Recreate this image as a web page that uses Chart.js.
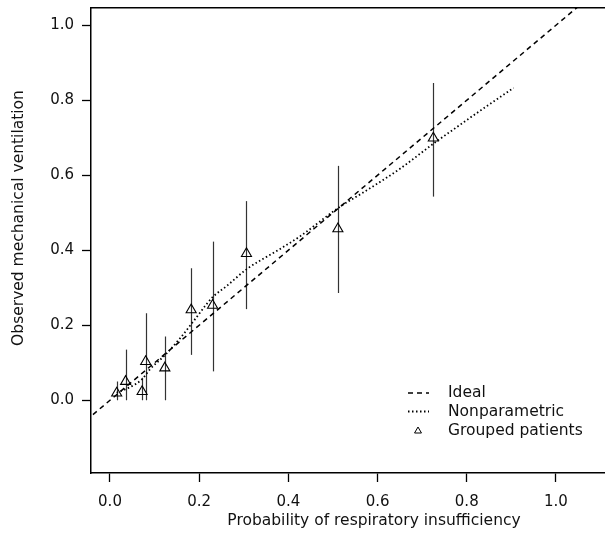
<!DOCTYPE html>
<html>
<head>
<meta charset="utf-8">
<script src="https://cdn.jsdelivr.net/npm/chart.js@4.4.0/dist/chart.umd.min.js"></script>
<style>
html, body { margin: 0; padding: 0; background: #fff; }
#wrap { width: 605px; height: 533px; }
</style>
</head>
<body>
<div id="wrap"><canvas id="calibChart" width="605" height="533"></canvas></div>
<script>
// Data
const idealX = [-0.1, 1.2];
const idealY = [-0.1, 1.2];

const npX = [0.015, 0.045, 0.071, 0.09, 0.123, 0.157, 0.19, 0.217, 0.232, 0.262, 0.307, 0.378, 0.426, 0.512, 0.576, 0.651, 0.725, 0.77, 0.83, 0.905];
const npY = [0.02, 0.035, 0.055, 0.083, 0.12, 0.165, 0.215, 0.257, 0.277, 0.305, 0.35, 0.401, 0.437, 0.513, 0.56, 0.618, 0.684, 0.722, 0.772, 0.833];

const groupX = [0.015, 0.035, 0.072, 0.080, 0.123, 0.182, 0.230, 0.306, 0.511, 0.725];
const groupY = [0.019, 0.050, 0.023, 0.103, 0.086, 0.241, 0.253, 0.391, 0.457, 0.699];
const groupLo = [0.0, 0.0, 0.0, 0.0, 0.0, 0.121, 0.077, 0.243, 0.286, 0.543];
const groupHi = [0.05, 0.135, 0.06, 0.232, 0.17, 0.352, 0.423, 0.531, 0.625, 0.846];

const xTicks = [0, 0.2, 0.4, 0.6, 0.8, 1.0];
const yTicks = [0, 0.2, 0.4, 0.6, 0.8, 1.0];

const legendLabels = ['Ideal', 'Nonparametric', 'Grouped patients'];
const xTitle = 'Probability of respiratory insufficiency';
const yTitle = 'Observed mechanical ventilation';

const FONT = '"DejaVu Sans", Verdana, sans-serif';
const INK = '#111';

Chart.defaults.font.family = FONT;
Chart.defaults.font.size = 15;
Chart.defaults.color = INK;

const toPoints = (xs, ys) => xs.map((x, i) => ({ x, y: ys[i] }));

// Vertical error bars through each grouped point
const errorBars = {
    id: 'errorBars',
    beforeDatasetsDraw(chart) {
        const { ctx, scales: { x, y } } = chart;
        ctx.save();
        ctx.strokeStyle = '#333';
        ctx.lineWidth = 1.2;
        groupX.forEach((gx, i) => {
            const px = Math.round(x.getPixelForValue(gx)) + 0.5;
            ctx.beginPath();
            ctx.moveTo(px, y.getPixelForValue(groupLo[i]));
            ctx.lineTo(px, y.getPixelForValue(groupHi[i]));
            ctx.stroke();
        });
        ctx.restore();
    }
};

// Axis titles and the in-plot legend
const annotations = {
    id: 'annotations',
    afterDraw(chart) {
        const { ctx } = chart;
        ctx.save();
        ctx.fillStyle = INK;
        ctx.font = '15.5px ' + FONT;
        ctx.textBaseline = 'middle';

        ctx.textAlign = 'center';
        ctx.fillText(xTitle, 374, 521);
        ctx.save();
        ctx.translate(19, 218);
        ctx.rotate(-Math.PI / 2);
        ctx.fillText(yTitle, 0, 0);
        ctx.restore();

        // legend
        const rows = [393, 411.5, 431];
        ctx.textAlign = 'left';
        legendLabels.forEach((label, i) => ctx.fillText(label, 448, rows[i]));

        ctx.strokeStyle = '#000';
        ctx.lineWidth = 1.5;
        ctx.setLineDash([5, 4]);
        ctx.beginPath();
        ctx.moveTo(408, rows[0]);
        ctx.lineTo(429, rows[0]);
        ctx.stroke();

        ctx.lineWidth = 1.8;
        ctx.setLineDash([1.5, 2.5]);
        ctx.beginPath();
        ctx.moveTo(408, rows[1]);
        ctx.lineTo(429, rows[1]);
        ctx.stroke();

        ctx.setLineDash([]);
        ctx.lineWidth = 1;
        ctx.fillStyle = 'rgba(0,0,0,0)';
        Chart.helpers.drawPoint(ctx, { pointStyle: 'triangle', radius: 4, borderWidth: 1 }, 418, rows[2]);
        ctx.restore();
    }
};

const noSidePadding = scale => { scale.paddingLeft = 0; scale.paddingRight = 0; };

const ctx = document.getElementById('calibChart').getContext('2d');

new Chart(ctx, {
    type: 'scatter',
    data: {
        datasets: [
            {
                label: 'Ideal',
                data: toPoints(idealX, idealY),
                showLine: true,
                borderColor: '#000',
                borderWidth: 1.5,
                borderDash: [5, 4],
                pointRadius: 0
            },
            {
                label: 'Nonparametric',
                data: toPoints(npX, npY),
                showLine: true,
                borderColor: '#000',
                borderWidth: 1.8,
                borderDash: [1.5, 2.5],
                cubicInterpolationMode: 'monotone',
                pointRadius: 0
            },
            {
                label: 'Grouped patients',
                data: toPoints(groupX, groupY),
                pointStyle: 'triangle',
                pointRadius: 5.8,
                pointBorderColor: '#000',
                pointBorderWidth: 1.1,
                pointBackgroundColor: 'rgba(0,0,0,0)'
            }
        ]
    },
    options: {
        responsive: false,
        animation: false,
        devicePixelRatio: 1,
        layout: { padding: 0, autoPadding: false },
        plugins: {
            legend: { display: false },
            tooltip: { enabled: false }
        },
        scales: {
            x: {
                type: 'linear',
                position: 'bottom',
                min: -0.0426,
                max: 1.11,
                afterBuildTicks: scale => { scale.ticks = xTicks.map(v => ({ value: v })); },
                afterFit: scale => { scale.height = 60; noSidePadding(scale); },
                ticks: {
                    padding: 11,
                    color: INK,
                    callback: v => v.toFixed(1)
                },
                grid: { drawOnChartArea: false, drawTicks: true, tickLength: 9, tickColor: '#000', tickWidth: 1.3 },
                border: { display: true, color: '#000', width: 1.5 }
            },
            xTop: {
                type: 'linear',
                position: 'top',
                min: -0.0426,
                max: 1.11,
                afterFit: scale => { scale.height = 8; noSidePadding(scale); },
                ticks: { display: false },
                grid: { display: false, drawTicks: false },
                border: { display: true, color: '#000', width: 1.5 }
            },
            y: {
                type: 'linear',
                position: 'left',
                min: -0.194,
                max: 1.046,
                afterBuildTicks: scale => { scale.ticks = yTicks.map(v => ({ value: v })); },
                afterFit: scale => { scale.width = 91; scale.paddingTop = 0; scale.paddingBottom = 0; },
                ticks: {
                    padding: 8,
                    color: INK,
                    callback: v => v.toFixed(1)
                },
                grid: { drawOnChartArea: false, drawTicks: true, tickLength: 9, tickColor: '#000', tickWidth: 1.3 },
                border: { display: true, color: '#000', width: 1.5 }
            }
        }
    },
    plugins: [errorBars, annotations]
});
</script>
</body>
</html>
